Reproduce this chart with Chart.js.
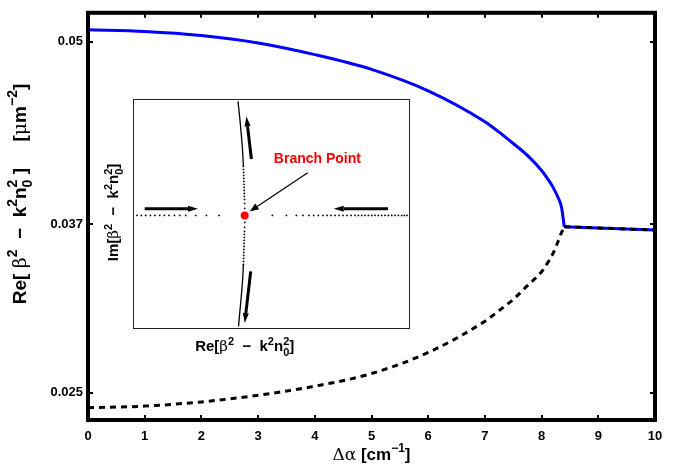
<!DOCTYPE html>
<html>
<head>
<meta charset="utf-8">
<script src="https://cdn.jsdelivr.net/npm/chart.js@4.4.1/dist/chart.umd.min.js"></script>
<style>
  body { margin: 0; background: #fff; }
  #wrap { position: relative; width: 673px; height: 466px; }
  #main { position: absolute; left: 0; top: 0; }
  #inset { position: absolute; left: 100px; top: 95px; }
</style>
</head>
<body>
<div id="wrap">
  <canvas id="main" width="673" height="466"></canvas>
  <canvas id="inset" width="320" height="265"></canvas>
</div>
<script>
// main plot data
const dAlpha = [0, 1, 2, 3, 4, 5, 6, 7, 7.25, 7.5, 7.75, 8, 8.1, 8.2, 8.3, 8.35, 8.4];
const upperBranch = [0.05085, 0.05073, 0.05044, 0.04991, 0.04908, 0.04803, 0.04650, 0.04430, 0.04356, 0.04275, 0.04190, 0.04082, 0.04027, 0.03964, 0.03881, 0.03823, 0.03682];
const lowerBranch = [0.02392, 0.02404, 0.02434, 0.02481, 0.02546, 0.02636, 0.02786, 0.03009, 0.03085, 0.03164, 0.03262, 0.03361, 0.03420, 0.03490, 0.03587, 0.03640, 0.03682];
const tailAlpha = [8.4, 9, 10];
const tailValues = [0.03682, 0.03673, 0.03658];
const yTickValues = [0.025, 0.037, 0.05];
const yTickLabels = ['0.025', '0.037', '0.05'];

// axis titles as [text, kind]: n normal, g greek (plain), ^ superscript, ^_ stacked sup|sub
const yTitle = [['Re[ ', 'n'], ['β', 'g'], ['2', '^'], ['  −  k', 'n'], ['2', '^'], ['n', 'n'], ['2|0', '^_'], [' ]     [', 'n'], ['μ', 'g'], ['m', 'n'], ['−2', '^'], [']', 'n']];
const xTitle = [['Δα', 'g'], [' [cm', 'n'], ['−1', '^'], [']', 'n']];
const insetXTitle = [['Re[', 'n'], ['β', 'g'], ['2', '^'], ['  −  k', 'n'], ['2', '^'], ['n', 'n'], ['2|0', '^_'], [']', 'n']];
const insetYTitle = [['Im[', 'n'], ['β', 'g'], ['2', '^'], ['  −  k', 'n'], ['2', '^'], ['n', 'n'], ['2|0', '^_'], [']', 'n']];

// inset (schematic, units relative to branch point)
const hDotsX = [-1.077, -1.033, -0.99, -0.943, -0.897, -0.85, -0.803, -0.757, -0.703, -0.65, -0.59, -0.49, -0.383, -0.257,
  0.277, 0.417, 0.517, 0.583, 0.643, 0.69, 0.737, 0.783, 0.823, 0.863, 0.903, 0.943, 0.983, 1.023, 1.063, 1.103, 1.137,
  1.17, 1.203, 1.237, 1.27, 1.303, 1.337, 1.37, 1.403, 1.437, 1.47, 1.503, 1.537, 1.57, 1.597, 1.623];
const vDotsY = [0.49, 0.46, 0.43, 0.40, 0.37, 0.34, 0.31, 0.28, 0.25, 0.22, 0.19, 0.16, 0.12, 0.07,
  -0.07, -0.12, -0.16, -0.19, -0.22, -0.25, -0.28, -0.31, -0.34, -0.37, -0.40, -0.43, -0.46, -0.49];
const vDotsX = [-0.013, -0.012, -0.011, -0.01, -0.009, -0.008, -0.007, -0.006, -0.005, -0.004, -0.003, -0.002, -0.001, 0,
  0, -0.001, -0.002, -0.003, -0.004, -0.005, -0.006, -0.007, -0.008, -0.009, -0.01, -0.011, -0.012, -0.013];
const topCurveX = [-0.067, -0.05, -0.035, -0.022, -0.013];
const topCurveY = [1.14, 0.98, 0.82, 0.66, 0.49];
const botCurveX = [-0.013, -0.022, -0.035, -0.05, -0.062];
const botCurveY = [-0.49, -0.66, -0.82, -0.98, -1.11];
const branchPoint = [0, 0];
// arrows: [x1, y1, x2, y2]
const thickArrows = [
  [-1.0, 0.067, -0.467, 0.067],
  [1.433, 0.067, 0.89, 0.067],
  [0.067, 0.564, 0.017, 0.99],
  [0.06, -0.56, 0.0, -1.076]
];
const pointerArrow = [0.63, 0.427, 0.05, 0.04];
const branchLabelPos = [0.727, 0.567];

const fontFam = "'Liberation Sans', Arial, sans-serif";
const greekFam = "'DejaVu Serif', 'Liberation Serif', serif";

function pts(xs, ys) { return xs.map((x, i) => ({ x: x, y: ys[i] })); }

function segFont(kind, size) {
  if (kind === 'g') return size + 'px ' + greekFam;
  if (kind === 'n') return 'bold ' + size + 'px ' + fontFam;
  return 'bold ' + Math.round(size * 0.72) + 'px ' + fontFam;
}
function segWidth(ctx, s, size) {
  ctx.font = segFont(s[1], size);
  if (s[1] === '^_') return Math.max(...s[0].split('|').map(t => ctx.measureText(t).width));
  return ctx.measureText(s[0]).width;
}
// draws a title centred on (cx, cy), optionally turned to read bottom-up
function drawRich(ctx, segs, cx, cy, size, rotate) {
  ctx.save();
  ctx.translate(cx, cy);
  if (rotate) ctx.rotate(-Math.PI / 2);
  ctx.fillStyle = '#000';
  ctx.textBaseline = 'alphabetic';
  ctx.textAlign = 'left';
  const total = segs.reduce((w, s) => w + segWidth(ctx, s, size), 0);
  let x = -total / 2;
  const base = size * 0.36;
  segs.forEach(s => {
    const w = segWidth(ctx, s, size);
    ctx.font = segFont(s[1], size);
    if (s[1] === '^') ctx.fillText(s[0], x, base - size * 0.45);
    else if (s[1] === '^_') {
      const p = s[0].split('|');
      ctx.fillText(p[0], x, base - size * 0.45);
      ctx.fillText(p[1], x, base + size * 0.3);
    } else ctx.fillText(s[0], x, base);
    x += w;
  });
  ctx.restore();
}

const framePlugin = {
  id: 'frame',
  afterDatasetsDraw(chart) {
    const ctx = chart.ctx, a = chart.chartArea;
    const xs = chart.scales.x, ys = chart.scales.y;
    ctx.save();
    ctx.strokeStyle = '#000';
    ctx.lineWidth = 2;
    const tl = 5;
    xs.ticks.forEach(t => {
      const px = Math.round(xs.getPixelForValue(t.value));
      ctx.beginPath();
      ctx.moveTo(px, a.bottom); ctx.lineTo(px, a.bottom - tl);
      ctx.moveTo(px, a.top); ctx.lineTo(px, a.top + tl);
      ctx.stroke();
    });
    ys.ticks.forEach(t => {
      const py = Math.round(ys.getPixelForValue(t.value));
      ctx.beginPath();
      ctx.moveTo(a.left, py); ctx.lineTo(a.left + tl, py);
      ctx.moveTo(a.right, py); ctx.lineTo(a.right - tl, py);
      ctx.stroke();
    });
    ctx.lineWidth = 4;
    ctx.strokeRect(a.left, a.top, a.right - a.left, a.bottom - a.top);
    ctx.restore();
    drawRich(ctx, xTitle, (a.left + a.right) / 2, 454, 17, false);
    drawRich(ctx, yTitle, 19, 194, 19, true);
  }
};

new Chart(document.getElementById('main'), {
  type: 'scatter',
  data: {
    datasets: [
      { data: pts(dAlpha, lowerBranch), showLine: true, borderColor: '#000', borderWidth: 3, borderDash: [6, 5],
        pointRadius: 0, cubicInterpolationMode: 'monotone', order: 0 },
      { data: pts(tailAlpha, tailValues), showLine: true, borderColor: '#000', borderWidth: 3, borderDash: [6, 5],
        pointRadius: 0, order: 0 },
      { data: pts(dAlpha, upperBranch), showLine: true, borderColor: '#0000ff', borderWidth: 3,
        pointRadius: 0, cubicInterpolationMode: 'monotone', order: 1 },
      { data: pts(tailAlpha, tailValues), showLine: true, borderColor: '#0000ff', borderWidth: 3,
        pointRadius: 0, order: 1 }
    ]
  },
  options: {
    responsive: false,
    animation: false,
    events: [],
    layout: { padding: { top: 8, right: 18, left: 0, bottom: 0 } },
    plugins: { legend: { display: false }, tooltip: { enabled: false } },
    scales: {
      x: {
        type: 'linear', min: 0, max: 10,
        ticks: { stepSize: 1, padding: 9, color: '#000', font: { family: fontFam, size: 13, weight: 'bold' } },
        grid: { display: false, drawTicks: false },
        border: { display: false },
        afterFit(s) { s.height = 46; }
      },
      y: {
        type: 'linear', min: 0.02305, max: 0.05206,
        afterBuildTicks(s) { s.ticks = yTickValues.map(v => ({ value: v })); },
        ticks: { padding: 5, color: '#000', font: { family: fontFam, size: 13, weight: 'bold' },
          callback(v) { const i = yTickValues.indexOf(v); return i >= 0 ? yTickLabels[i] : ''; } },
        grid: { display: false, drawTicks: false },
        border: { display: false },
        afterFit(s) { s.width = 88; }
      }
    }
  },
  plugins: [framePlugin]
});

function arrow(ctx, x1, y1, x2, y2, w, hl, hw) {
  const ang = Math.atan2(y2 - y1, x2 - x1);
  const bx = x2 - hl * Math.cos(ang), by = y2 - hl * Math.sin(ang);
  ctx.lineWidth = w;
  ctx.beginPath(); ctx.moveTo(x1, y1); ctx.lineTo(bx, by); ctx.stroke();
  ctx.beginPath();
  ctx.moveTo(x2, y2);
  ctx.lineTo(bx + hw * Math.sin(ang), by - hw * Math.cos(ang));
  ctx.lineTo(bx - hw * Math.sin(ang), by + hw * Math.cos(ang));
  ctx.closePath(); ctx.fill();
}

const insetPlugin = {
  id: 'insetDeco',
  beforeDatasetsDraw(chart) {
    const ctx = chart.ctx, a = chart.chartArea;
    ctx.save();
    ctx.fillStyle = '#fff';
    ctx.fillRect(a.left, a.top, a.right - a.left, a.bottom - a.top);
    ctx.restore();
  },
  afterDatasetsDraw(chart) {
    const ctx = chart.ctx, a = chart.chartArea;
    const xs = chart.scales.x, ys = chart.scales.y;
    ctx.save();
    ctx.strokeStyle = '#000'; ctx.fillStyle = '#000';
    thickArrows.forEach(r => arrow(ctx, xs.getPixelForValue(r[0]), ys.getPixelForValue(r[1]),
      xs.getPixelForValue(r[2]), ys.getPixelForValue(r[3]), 3, 10, 3));
    arrow(ctx, xs.getPixelForValue(pointerArrow[0]), ys.getPixelForValue(pointerArrow[1]),
      xs.getPixelForValue(pointerArrow[2]), ys.getPixelForValue(pointerArrow[3]), 1.2, 9, 3.5);
    ctx.fillStyle = '#ff0000';
    ctx.font = 'bold 14px ' + fontFam;
    ctx.textAlign = 'center'; ctx.textBaseline = 'middle';
    ctx.fillText('Branch Point', xs.getPixelForValue(branchLabelPos[0]), ys.getPixelForValue(branchLabelPos[1]));
    ctx.strokeStyle = '#222';
    ctx.lineWidth = 1;
    ctx.strokeRect(Math.round(a.left) + 0.5, Math.round(a.top) + 0.5, Math.round(a.right - a.left), Math.round(a.bottom - a.top));
    ctx.restore();
    drawRich(ctx, insetXTitle, xs.getPixelForValue(branchPoint[0]), a.bottom + 18, 15, false);
    drawRich(ctx, insetYTitle, 13, ys.getPixelForValue(branchPoint[1]) - 3, 15, true);
  }
};

new Chart(document.getElementById('inset'), {
  type: 'scatter',
  data: {
    datasets: [
      { data: pts(hDotsX, hDotsX.map(() => 0)), pointRadius: 0.9, pointBackgroundColor: '#000', pointBorderWidth: 0 },
      { data: pts(vDotsX, vDotsY), pointRadius: 0.9, pointBackgroundColor: '#000', pointBorderWidth: 0 },
      { data: pts(topCurveX, topCurveY), showLine: true, borderColor: '#000', borderWidth: 1.3, pointRadius: 0, tension: 0.3 },
      { data: pts(botCurveX, botCurveY), showLine: true, borderColor: '#000', borderWidth: 1.3, pointRadius: 0, tension: 0.3 },
      { data: [{ x: branchPoint[0], y: branchPoint[1] }], pointRadius: 4, pointBackgroundColor: '#ff0000', pointBorderWidth: 0 }
    ]
  },
  options: {
    responsive: false,
    animation: false,
    events: [],
    layout: { padding: { top: 4, right: 11, left: 0, bottom: 0 } },
    plugins: { legend: { display: false }, tooltip: { enabled: false } },
    scales: {
      x: {
        type: 'linear', min: -1.117, max: 1.643,
        ticks: { display: false }, grid: { display: false, drawTicks: false }, border: { display: false },
        afterFit(s) { s.height = 32; }
      },
      y: {
        type: 'linear', min: -1.126, max: 1.164,
        ticks: { display: false }, grid: { display: false, drawTicks: false }, border: { display: false },
        afterFit(s) { s.width = 33; }
      }
    }
  },
  plugins: [insetPlugin]
});
</script>
</body>
</html>
